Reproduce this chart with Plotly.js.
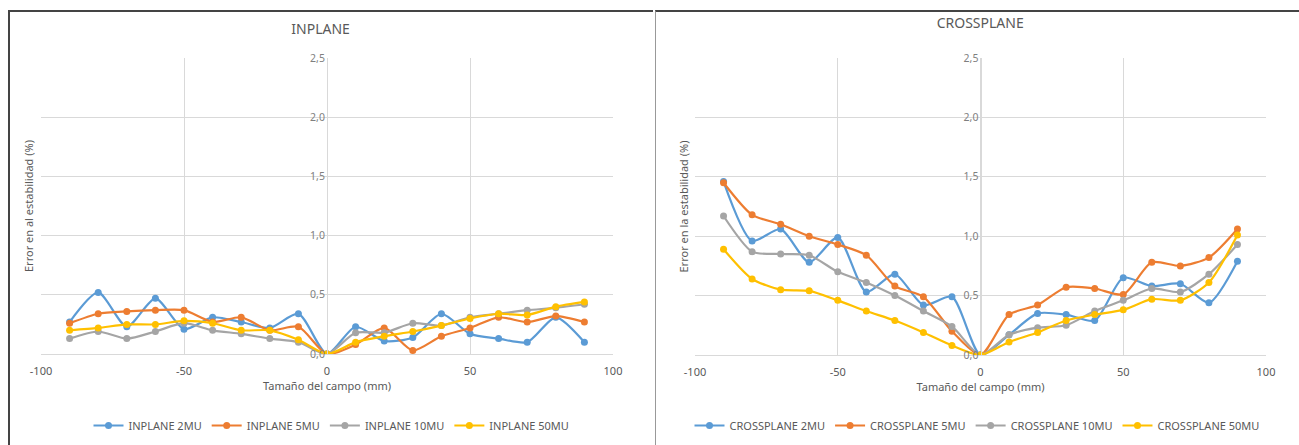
<!DOCTYPE html>
<html><head><meta charset="utf-8">
<script src="https://cdn.plot.ly/plotly-3.0.1.min.js"></script>
<style>
html,body{margin:0;padding:0;background:#fff;width:1299px;height:445px;overflow:hidden;}
#left{position:absolute;left:8px;top:10px;width:645px;height:435px;border-left:2px solid #444;border-top:2px solid #444;box-sizing:border-box;}
#right{position:absolute;left:655px;top:10px;width:644px;height:435px;border-left:1.5px solid #999;border-top:2px solid #444;box-sizing:border-box;}
</style></head><body>
<div id="left"></div><div id="right"></div>
<script>
const fieldSize = [-90,-80,-70,-60,-50,-40,-30,-20,-10,0,10,20,30,40,50,60,70,80,90];

const inplane2MU  = [0.27,0.52,0.23,0.47,0.21,0.31,0.27,0.22,0.34,0,0.23,0.11,0.14,0.34,0.17,0.13,0.10,0.31,0.10];
const inplane5MU  = [0.26,0.34,0.36,0.37,0.37,0.27,0.31,0.20,0.23,0,0.08,0.22,0.03,0.15,0.22,0.31,0.27,0.32,0.27];
const inplane10MU = [0.13,0.19,0.13,0.19,0.26,0.20,0.17,0.13,0.10,0,0.18,0.18,0.26,0.24,0.31,0.34,0.37,0.39,0.42];
const inplane50MU = [0.20,0.22,0.25,0.25,0.28,0.26,0.20,0.20,0.12,0,0.10,0.15,0.19,0.24,0.30,0.34,0.33,0.40,0.44];

const cross2MU  = [1.46,0.96,1.06,0.78,0.99,0.53,0.68,0.42,0.49,0,0.17,0.35,0.34,0.29,0.65,0.58,0.60,0.44,0.79];
const cross5MU  = [1.45,1.18,1.10,1.00,0.93,0.84,0.58,0.49,0.20,0,0.34,0.42,0.57,0.56,0.51,0.78,0.75,0.82,1.06];
const cross10MU = [1.17,0.87,0.85,0.84,0.70,0.61,0.50,0.37,0.24,0,0.17,0.23,0.25,0.37,0.46,0.56,0.53,0.68,0.93];
const cross50MU = [0.89,0.64,0.55,0.54,0.46,0.37,0.29,0.19,0.08,0,0.11,0.19,0.29,0.34,0.38,0.47,0.46,0.61,1.01];

const xTickVals = [-100,-50,0,50,100];
const xTickText = ['-100','-50','0','50','100'];
const yTickVals = [0,0.5,1.0,1.5,2.0,2.5];
const colors = ['#5B9BD5','#ED7D31','#A5A5A5','#FFC000'];
const FONT = 'Noto Sans, Open Sans, sans-serif';
const TXT = '#595959';

function traces(prefix, arrs){
  const names = ['2MU','5MU','10MU','50MU'];
  return arrs.map((a,i)=>({
    x: fieldSize, y: a, type:'scatter', mode:'lines+markers',
    name: prefix + ' ' + names[i],
    line:{color:colors[i], width:2.2, shape:'spline', smoothing:0.7},
    marker:{color:colors[i], size:7}
  }));
}

function layout(title, ytitle){
  return {
    width: 0, height: 0,
    separators: ',.',
    paper_bgcolor:'rgba(0,0,0,0)', plot_bgcolor:'rgba(0,0,0,0)',
    font:{family:FONT, color:TXT, size:10},
    title:{text:title, font:{size:14, color:TXT, family:FONT}, x:0.5, xanchor:'center', y:1, yanchor:'top', pad:{t:12}, automargin:false},
    showlegend:true,
    legend:{orientation:'h', x:0.5, xanchor:'center', xref:'container', yref:'container', y:0.045, yanchor:'middle',
      font:{size:11, color:TXT}, itemwidth:30, tracegroupgap:0},
    xaxis:{range:[-100,100], tickvals:xTickVals, ticktext:xTickText, showgrid:true, gridcolor:'#D9D9D9', gridwidth:1,
      zeroline:false, showline:true, linecolor:'#D9D9D9', mirror:false, ticks:'', tickfont:{size:11,color:TXT},
      ticklabelstandoff:7, automargin:false,
      title:{text:'Tamaño del campo (mm)', font:{size:11,color:TXT}, standoff:0}},
    yaxis:{range:[0,2.5], tickvals:yTickVals, tickformat:'.1f', showgrid:true, gridcolor:'#D9D9D9', gridwidth:1,
      zeroline:false, showline:true, linecolor:'#D9D9D9', anchor:'free', position:0.5, ticks:'', automargin:false,
      tickfont:{size:10.5,color:'#7f7f7f'}},
    annotations:[{text:ytitle, xref:'paper', yref:'paper', x:0, y:0.5, xanchor:'center', yanchor:'middle',
      xshift:-13, textangle:-90, showarrow:false, font:{size:11, color:TXT}}],
    margin:{l:0,r:0,t:0,b:0}
  };
}

const L = layout('INPLANE','Error en al estabilidad (%)');
L.width = 643; L.height = 433;
L.margin = {l:31, r:40, t:46, b:91};
L.title.x = 0.483;
Plotly.newPlot('left', traces('INPLANE',[inplane2MU,inplane5MU,inplane10MU,inplane50MU]), L, {displayModeBar:false, staticPlot:true});

const R = layout('CROSSPLANE','Error en la estabilidad (%)');
R.width = 642; R.height = 433;
R.margin = {l:38.5, r:32, t:46, b:90};
R.title.pad = {t:6};
R.title.x = 0.505;
R.annotations[0].xshift = -12;
Plotly.newPlot('right', traces('CROSSPLANE',[cross2MU,cross5MU,cross10MU,cross50MU]), R, {displayModeBar:false, staticPlot:true});
</script></body></html>
